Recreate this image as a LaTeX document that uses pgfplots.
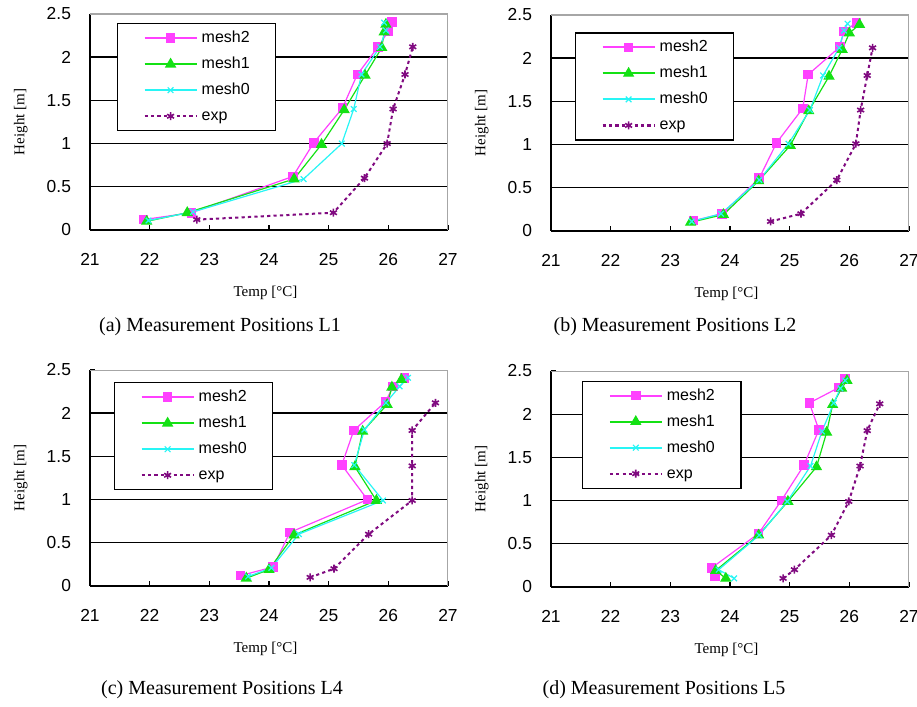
\documentclass[border=0pt]{standalone}
\usepackage{fontspec}
\setmainfont{Liberation Serif}
\newfontfamily\arial{Liberation Sans}
\usepackage{pgfplots}
\pgfplotsset{compat=1.18}

\definecolor{cmesh2}{RGB}{255,64,255}
\definecolor{cmesh1}{RGB}{20,225,20}
\definecolor{cmesh0}{RGB}{40,245,245}
\definecolor{cexp}{RGB}{128,10,128}

\pgfplotsset{
  panel/.style={
    scale only axis, width=179pt, height=108pt,
    xmin=21, xmax=27, ymin=0, ymax=2.5,
    xtick={21,...,27}, ytick={0,0.5,...,2.5},
    axis x line*=bottom, axis y line*=left,
    axis line style={black, line width=0.7pt, -},
    xtick align=inside, ytick align=inside, major tick length=2.5pt,
    tick style={black, line width=0.6pt},
    ticklabel style={font=\arial\fontsize{8.7}{10}\selectfont},
    /pgf/number format/assume math mode=true,
    xticklabel style={yshift=-8pt},
    yticklabel style={xshift=-6pt},
    extra y ticks={0.5,1,1.5,2}, extra y tick labels={},
    extra y tick style={grid=major, major grid style={black, line width=0.7pt}, major tick length=0pt},
    xlabel={Temp [°C]}, ylabel={Height [m]},
    label style={font=\fontsize{7.5}{9}\selectfont},
    xlabel style={at={(axis description cs:0.49,-0.29)}, anchor=center},
    ylabel style={at={(axis description cs:-0.193,0.5)}, anchor=center},
    legend cell align=left,
    legend style={anchor=north west, draw=black, line width=0.65pt, fill=white,
      font=\arial\fontsize{8}{9}\selectfont,
      inner xsep=13pt, inner ysep=3.5pt, row sep=5.5pt, column sep=2pt,
      nodes={inner sep=0pt, text height=6pt, text depth=1.5pt}},
  },
  % legend samples carry their colour explicitly
  m2/.style={color=cmesh2, line width=0.6pt, mark=square*, mark size=2.1pt,
    mark options={solid, draw=cmesh2, fill=cmesh2},
    legend image code/.code={\draw[draw=cmesh2, line width=1pt] (0pt,0pt) -- (26pt,0pt);
      \path plot[mark=square*, mark size=2.1pt, mark options={draw=cmesh2, fill=cmesh2}] coordinates {(13pt,0pt)};}},
  m1/.style={color=cmesh1, line width=0.6pt, mark=triangle*, mark size=2.7pt,
    mark options={solid, draw=cmesh1, fill=cmesh1},
    legend image code/.code={\draw[draw=cmesh1, line width=1pt] (0pt,0pt) -- (26pt,0pt);
      \path plot[mark=triangle*, mark size=2.7pt, mark options={draw=cmesh1, fill=cmesh1}] coordinates {(13pt,0pt)};}},
  m0/.style={color=cmesh0, line width=0.6pt, mark=x, mark size=2pt,
    mark options={solid, draw=cmesh0},
    legend image code/.code={\draw[draw=cmesh0, line width=1pt] (0pt,0pt) -- (26pt,0pt);
      \path plot[mark=x, mark size=2pt, mark options={draw=cmesh0, line width=0.6pt}] coordinates {(13pt,0pt)};}},
  ex/.style={color=cexp, line width=1pt, dash pattern=on 1.6pt off 1.6pt, mark=asterisk, mark size=2pt,
    mark options={solid, draw=cexp, line width=0.8pt},
    legend image code/.code={\draw[draw=cexp, line width=1.1pt, dash pattern=on 1.6pt off 1.6pt] (0pt,0pt) -- (26pt,0pt);
      \path plot[mark=asterisk, mark size=2pt, mark options={solid, draw=cexp, line width=0.8pt}] coordinates {(13pt,0pt)};}},
}

\begin{document}
\begin{tikzpicture}
\path[use as bounding box] (0,0) rectangle (458.5pt,353.5pt);

% (a) L1
\begin{axis}[panel, at={(45pt,238.5pt)}, anchor=south west,
  legend style={at={(axis cs:21.45,2.395)}}]
\addplot[m2] coordinates {(21.9,0.12)(22.7,0.2)(24.4,0.62)(24.75,1.01)(25.23,1.41)(25.48,1.8)(25.83,2.12)(26.0,2.3)(26.06,2.41)};
\addplot[m1] coordinates {(21.95,0.1)(22.63,0.2)(24.42,0.59)(24.88,0.99)(25.26,1.39)(25.61,1.79)(25.89,2.11)(25.93,2.29)(25.96,2.38)};
\addplot[m0] coordinates {(21.98,0.11)(22.73,0.21)(24.58,0.59)(25.22,1.0)(25.42,1.4)(25.55,1.8)(25.86,2.12)(25.96,2.31)(25.93,2.4)};
\addplot[ex] coordinates {(22.79,0.12)(25.08,0.2)(25.6,0.6)(25.98,1.0)(26.08,1.4)(26.28,1.8)(26.41,2.12)};
\legend{mesh2,mesh1,mesh0,exp}
\draw[gray!70, line width=0.6pt] (rel axis cs:0,1) -- (rel axis cs:1,1) -- (rel axis cs:1,0);
\end{axis}

% (b) L2
\begin{axis}[panel, at={(275.5pt,238pt)}, anchor=south west,
  legend style={at={(axis cs:21.4,2.30)}}]
\addplot[m2] coordinates {(23.39,0.12)(23.87,0.2)(24.49,0.61)(24.78,1.02)(25.22,1.42)(25.31,1.81)(25.84,2.13)(25.91,2.31)(26.12,2.41)};
\addplot[m1] coordinates {(23.34,0.1)(23.89,0.19)(24.48,0.58)(25.01,0.99)(25.32,1.39)(25.66,1.79)(25.88,2.1)(26.0,2.29)(26.17,2.39)};
\addplot[m0] coordinates {(23.36,0.11)(23.85,0.2)(24.49,0.59)(24.98,1.01)(25.34,1.4)(25.56,1.8)(25.83,2.12)(25.91,2.32)(25.97,2.4)};
\addplot[ex] coordinates {(24.68,0.11)(25.19,0.2)(25.79,0.59)(26.11,1.01)(26.19,1.4)(26.3,1.8)(26.39,2.12)};
\legend{mesh2,mesh1,mesh0,exp}
\draw[gray!70, line width=0.6pt] (rel axis cs:0,1) -- (rel axis cs:1,1) -- (rel axis cs:1,0);
\end{axis}

% (c) L4
\begin{axis}[panel, at={(45pt,60.5pt)}, anchor=south west,
  legend style={at={(axis cs:21.4,2.36)}}]
\addplot[m2] coordinates {(23.52,0.12)(24.07,0.22)(24.35,0.62)(25.65,1.0)(25.22,1.4)(25.42,1.8)(25.95,2.13)(26.08,2.31)(26.27,2.41)};
\addplot[m1] coordinates {(23.62,0.09)(24.0,0.19)(24.42,0.59)(25.8,0.99)(25.44,1.38)(25.57,1.79)(25.98,2.1)(26.06,2.3)(26.22,2.39)};
\addplot[m0] coordinates {(23.65,0.11)(24.04,0.21)(24.5,0.6)(25.91,0.99)(25.43,1.4)(25.6,1.81)(25.96,2.12)(26.19,2.31)(26.33,2.41)};
\addplot[ex] coordinates {(24.69,0.1)(25.09,0.2)(25.67,0.6)(26.4,0.99)(26.4,1.39)(26.4,1.8)(26.79,2.12)};
\legend{mesh2,mesh1,mesh0,exp}
\draw[gray!70, line width=0.6pt] (rel axis cs:0,1) -- (rel axis cs:1,1) -- (rel axis cs:1,0);
\end{axis}

% (d) L5
\begin{axis}[panel, at={(275.5pt,60pt)}, anchor=south west,
  legend style={at={(axis cs:21.52,2.39)}}]
\addplot[m2] coordinates {(23.75,0.13)(23.69,0.22)(24.48,0.62)(24.86,1.0)(25.24,1.41)(25.49,1.82)(25.33,2.13)(25.83,2.31)(25.93,2.41)};
\addplot[m1] coordinates {(23.93,0.1)(23.76,0.19)(24.48,0.6)(24.97,0.99)(25.45,1.39)(25.62,1.79)(25.72,2.11)(25.87,2.3)(25.96,2.39)};
\addplot[m0] coordinates {(24.07,0.1)(23.81,0.2)(24.49,0.6)(24.96,0.99)(25.35,1.4)(25.54,1.8)(25.74,2.13)(25.85,2.3)(25.93,2.39)};
\addplot[ex] coordinates {(24.89,0.1)(25.08,0.2)(25.7,0.6)(25.99,0.99)(26.18,1.4)(26.3,1.81)(26.51,2.12)};
\legend{mesh2,mesh1,mesh0,exp}
\draw[gray!70, line width=0.6pt] (rel axis cs:0,1) -- (rel axis cs:1,1) -- (rel axis cs:1,0);
\end{axis}

\node[font=\fontsize{10}{12}\selectfont] at (110pt,190pt) {(a) Measurement Positions L1};
\node[font=\fontsize{10}{12}\selectfont] at (337.5pt,190pt) {(b) Measurement Positions L2};
\node[font=\fontsize{10}{12}\selectfont] at (111pt,8.5pt) {(c) Measurement Positions L4};
\node[font=\fontsize{10}{12}\selectfont] at (332pt,8.5pt) {(d) Measurement Positions L5};
\end{tikzpicture}
\end{document}
